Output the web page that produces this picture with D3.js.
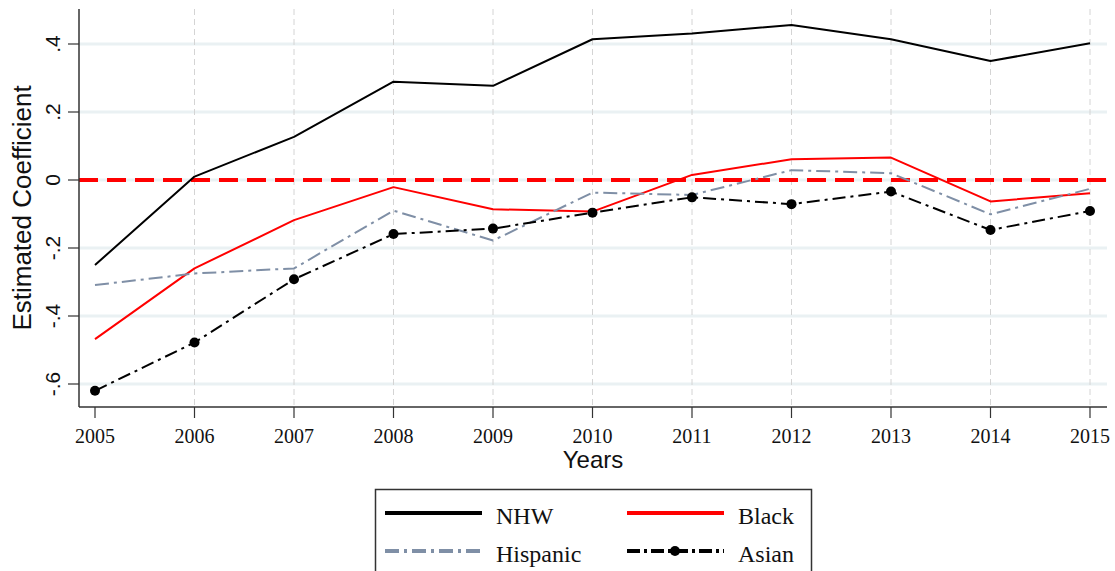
<!DOCTYPE html>
<html>
<head>
<meta charset="utf-8">
<script src="https://cdn.jsdelivr.net/npm/d3@7/dist/d3.min.js"></script>
<style>
  html, body { margin: 0; padding: 0; background: #fff; }
  svg { display: block; }
</style>
</head>
<body>
<svg id="chart" width="1115" height="571"></svg>
<script>
// Survey years and estimated coefficients by group
const years = [2005, 2006, 2007, 2008, 2009, 2010, 2011, 2012, 2013, 2014, 2015];
const nhw      = [-0.250, 0.010, 0.127, 0.289, 0.277, 0.414, 0.431, 0.456, 0.414, 0.350, 0.402];
const black    = [-0.468, -0.260, -0.118, -0.021, -0.086, -0.093, 0.015, 0.061, 0.066, -0.063, -0.039];
const hispanic = [-0.309, -0.275, -0.260, -0.090, -0.178, -0.037, -0.044, 0.029, 0.020, -0.101, -0.026];
const asian    = [-0.620, -0.478, -0.292, -0.159, -0.143, -0.096, -0.051, -0.071, -0.034, -0.147, -0.091];
const yTicks = [-0.6, -0.4, -0.2, 0, 0.2, 0.4];
const yTickLabels = ["-.6", "-.4", "-.2", "0", ".2", ".4"];

const series = [
  { name: "NHW",      values: nhw,      color: "#000000", dash: null,          marker: false },
  { name: "Black",    values: black,    color: "#ff0000", dash: null,          marker: false },
  { name: "Hispanic", values: hispanic, color: "#7f8fa6", dash: "14,5,3,5",    marker: false },
  { name: "Asian",    values: asian,    color: "#000000", dash: "13,5,3,5",    marker: true }
];

const svg = d3.select("#chart");
const plotLeft = 79, plotRight = 1107, plotTop = 9, plotBottom = 407;

const x = d3.scaleLinear().domain([2005, 2015]).range([95, 1090]);
const y = d3.scaleLinear().domain([-0.6, 0.4]).range([384, 44]);

// horizontal grid
svg.append("g").selectAll("line").data(yTicks).join("line")
  .attr("x1", plotLeft).attr("x2", plotRight)
  .attr("y1", d => y(d)).attr("y2", d => y(d))
  .attr("stroke", "#eaf1f3").attr("stroke-width", 3);

// vertical dashed grid
svg.append("g").selectAll("line").data(years.slice(1)).join("line")
  .attr("x1", d => x(d)).attr("x2", d => x(d))
  .attr("y1", plotTop).attr("y2", plotBottom)
  .attr("stroke", "#d4d4d4").attr("stroke-width", 1)
  .attr("stroke-dasharray", "6,4");

// zero reference
svg.append("line")
  .attr("x1", plotLeft).attr("x2", plotRight)
  .attr("y1", y(0)).attr("y2", y(0))
  .attr("stroke", "#ff0000").attr("stroke-width", 4)
  .attr("stroke-dasharray", "19,9");

// series lines
const line = d3.line().x((d, i) => x(years[i])).y(d => y(d));
series.forEach(s => {
  svg.append("path")
    .attr("d", line(s.values))
    .attr("fill", "none")
    .attr("stroke", s.color)
    .attr("stroke-width", 2)
    .attr("stroke-linejoin", "round")
    .attr("stroke-dasharray", s.dash);
  if (s.marker) {
    svg.append("g").selectAll("circle").data(s.values).join("circle")
      .attr("cx", (d, i) => x(years[i])).attr("cy", d => y(d))
      .attr("r", 5).attr("fill", s.color);
  }
});

// axes
const axisColor = "#333";
const yAxis = svg.append("g").attr("transform", `translate(${plotLeft},0)`);
yAxis.append("line").attr("x1", 0).attr("x2", 0).attr("y1", plotTop).attr("y2", plotBottom)
  .attr("stroke", axisColor).attr("stroke-width", 1.5);
yAxis.selectAll(".tk").data(yTicks).join("line")
  .attr("x1", -11).attr("x2", 0).attr("y1", d => y(d)).attr("y2", d => y(d))
  .attr("stroke", axisColor).attr("stroke-width", 1.2);
yAxis.selectAll("text").data(yTicks).join("text")
  .attr("transform", d => `translate(-19,${y(d)}) rotate(-90)`)
  .attr("text-anchor", "middle")
  .attr("font-family", "Liberation Sans, Arial, sans-serif")
  .attr("font-size", 21)
  .attr("fill", "#111")
  .text((d, i) => yTickLabels[i]);

const xAxis = svg.append("g").attr("transform", `translate(0,${plotBottom})`);
xAxis.append("line").attr("x1", plotLeft).attr("x2", plotRight).attr("y1", 0).attr("y2", 0)
  .attr("stroke", axisColor).attr("stroke-width", 1.5);
xAxis.selectAll(".tk").data(years).join("line")
  .attr("x1", d => x(d)).attr("x2", d => x(d)).attr("y1", 0).attr("y2", 11)
  .attr("stroke", axisColor).attr("stroke-width", 1.2);
xAxis.selectAll("text").data(years).join("text")
  .attr("x", d => x(d)).attr("y", 36)
  .attr("text-anchor", "middle")
  .attr("font-family", "Liberation Serif, Times New Roman, serif")
  .attr("font-size", 20)
  .attr("fill", "#111")
  .text(d => d);

// axis titles
svg.append("text")
  .attr("x", 593).attr("y", 468)
  .attr("text-anchor", "middle")
  .attr("font-family", "Liberation Sans, Arial, sans-serif")
  .attr("font-size", 24)
  .attr("fill", "#111")
  .text("Years");

svg.append("text")
  .attr("transform", "translate(31,208) rotate(-90)")
  .attr("text-anchor", "middle")
  .attr("font-family", "Liberation Sans, Arial, sans-serif")
  .attr("font-size", 26)
  .attr("fill", "#111")
  .text("Estimated Coefficient");

// legend
const legend = svg.append("g");
legend.append("rect")
  .attr("x", 375.5).attr("y", 489.5).attr("width", 436).attr("height", 100)
  .attr("fill", "#fff").attr("stroke", "#333").attr("stroke-width", 1.5);

const legendPos = [
  { lx: 385, ty: 513 }, { lx: 627, ty: 513 },
  { lx: 385, ty: 551 }, { lx: 627, ty: 551 }
];
series.forEach((s, i) => {
  const p = legendPos[i];
  legend.append("line")
    .attr("x1", p.lx).attr("x2", p.lx + 97)
    .attr("y1", p.ty).attr("y2", p.ty)
    .attr("stroke", s.color).attr("stroke-width", 4)
    .attr("stroke-dasharray", s.marker ? "13,4,3,4" : (s.dash ? "14,5,3,5" : null));
  if (s.marker) {
    legend.append("circle").attr("cx", p.lx + 48).attr("cy", p.ty).attr("r", 5).attr("fill", s.color);
  }
  legend.append("text")
    .attr("x", p.lx + 111).attr("y", p.ty + 11)
    .attr("font-family", "Liberation Serif, Times New Roman, serif")
    .attr("font-size", 24)
    .attr("fill", "#111")
    .text(s.name);
});
</script>
</body>
</html>
